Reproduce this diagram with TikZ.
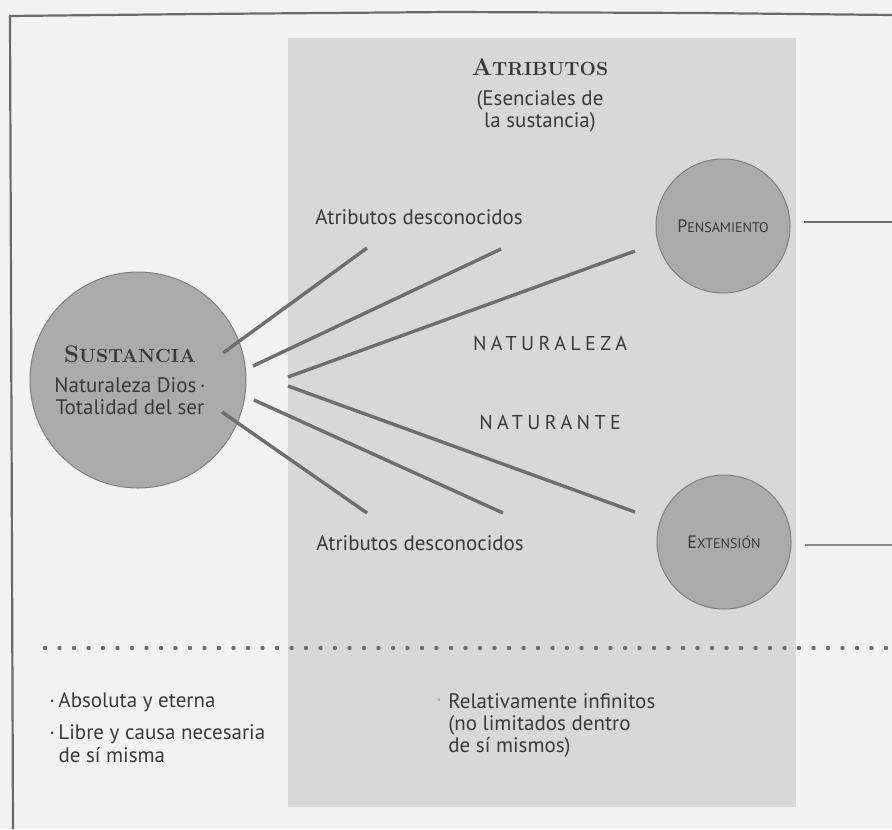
\documentclass[tikz,border=0pt]{standalone}
\usepackage{fontspec}
\usetikzlibrary{calc}
\newfontfamily\bodyfont{PT Sans}
\newfontfamily\spacedfont{PT Sans}[LetterSpace=22]
\newcommand{\capsword}[4]{{\fontsize{#3}{#3}\selectfont #1}{\fontsize{#4}{#4}\selectfont #2}}

\definecolor{pagegray}{HTML}{F2F2F2}
\definecolor{boxgray}{HTML}{D8D8D8}
\definecolor{bubblefill}{HTML}{ABABAB}
\definecolor{bubbleline}{HTML}{7F7F7F}
\definecolor{raygray}{HTML}{6E6E6E}
\definecolor{inkgray}{HTML}{3A3A3A}
\definecolor{framegray}{HTML}{6A6A6A}

\begin{document}
\begin{tikzpicture}[x=0.5pt, y=-0.5pt,
    every node/.style={font=\bodyfont\fontsize{10.5}{11}\selectfont, text=inkgray, inner sep=0pt},
    bubble/.style={circle, draw=bubbleline, fill=bubblefill, line width=0.5pt},
    ray/.style={draw=raygray, line width=1.7pt},
    title/.style={font=\rmfamily\bfseries, text=inkgray}]
			% Page and frame
			\fill[pagegray] (0,0) rectangle (892,829);
			\useasboundingbox (0,0) rectangle (892,829);
			\draw[framegray, line width=1.1pt] (13,829) -- (10,16) -- (200,14) -- (450,12) -- (700,13) -- (892,15);

			% Attribute panel
			\fill[boxgray] (288,38) rectangle (796,807);

			% Substance and the two known attributes
			\node[bubble, minimum size=108pt] (sus) at (138,380) {};
			\node[align=center] (sustxt) at (130,380)
				{{\rmfamily\bfseries\capsword{S}{USTANCIA}{12}{9.5}}\\[4pt]Naturaleza Dios\,·\\Totalidad del ser};
			\node[bubble, minimum size=67pt] (pen) at (723,226) {\capsword{P}{ENSAMIENTO}{9}{7}};
			\node[bubble, minimum size=67pt] (ext) at (724,542) {\capsword{E}{XTENSIÓN}{9}{7}};

			% Texts
			\node[title] (atr) at (540,67) {\capsword{A}{TRIBUTOS}{12}{9.5}};
			\node[align=center] (esen) at (540,111) {(Esenciales de\\la sustancia)};
			\node[anchor=west] (desc1) at (315,217) {Atributos desconocidos};
			\node[anchor=west] (desc2) at (316,543) {Atributos desconocidos};
			\node[font=\spacedfont\fontsize{10}{11}\selectfont] (natz) at (550,343) {NATURALEZA};
			\node[font=\spacedfont\fontsize{10}{11}\selectfont] (natn) at (550,422) {NATURANTE};

			% Rays from the substance
			\coordinate (s1) at ($(sus.center)+(85,-27)$);
			\coordinate (s2) at ($(sus.center)+(115,-14)$);
			\coordinate (s3) at ($(sus.center)+(150,-3)$);
			\coordinate (s4) at ($(sus.center)+(150,6)$);
			\coordinate (s5) at ($(sus.center)+(116,20)$);
			\coordinate (s6) at ($(sus.center)+(84,32)$);
			\coordinate (e1) at (367,248);
			\coordinate (e2) at (501,249);
			\coordinate (e3) at (635,251);
			\coordinate (e4) at (635,512);
			\coordinate (e5) at (503,513);
			\coordinate (e6) at (367,513);
			\draw[ray] (s1) -- (e1);
			\draw[ray] (s2) -- (e2);
			\draw[ray] (s3) -- (e3);
			\draw[ray] (s4) -- (e4);
			\draw[ray] (s5) -- (e5);
			\draw[ray] (s6) -- (e6);

			% Lines leaving to the right
			\coordinate (penout) at (892,222);
			\coordinate (extout) at (892,545);
			\draw[raygray, line width=1pt] ([xshift=6.5pt,yshift=2pt]pen.east) -- (penout);
			\draw[raygray!80, line width=0.6pt] ([xshift=6.5pt,yshift=-1.5pt]ext.east) -- (extout);

			% Dotted separator
			\coordinate (dotl) at (45,648);
			\coordinate (dotr) at (892,648);
			\draw[raygray, line width=2.2pt, line cap=round, dash pattern=on 0pt off 7.25pt] (dotl) -- (dotr);

			% Properties
			\node[anchor=west] (abs) at (49,702) {·\,Absoluta y eterna};
			\node[anchor=west, align=left, font=\bodyfont\fontsize{10.5}{11.5}\selectfont] (lib) at (49,744)
				{·\,Libre y causa necesaria\\\phantom{·\,}de sí misma};
			\node[anchor=west, align=left] (rel) at (448,725) {Relativamente infinitos\\(no limitados dentro\\de sí mismos)};
			\node[text=raygray!60] (relb) at (439,703) {·};
		\end{tikzpicture}
\end{document}
